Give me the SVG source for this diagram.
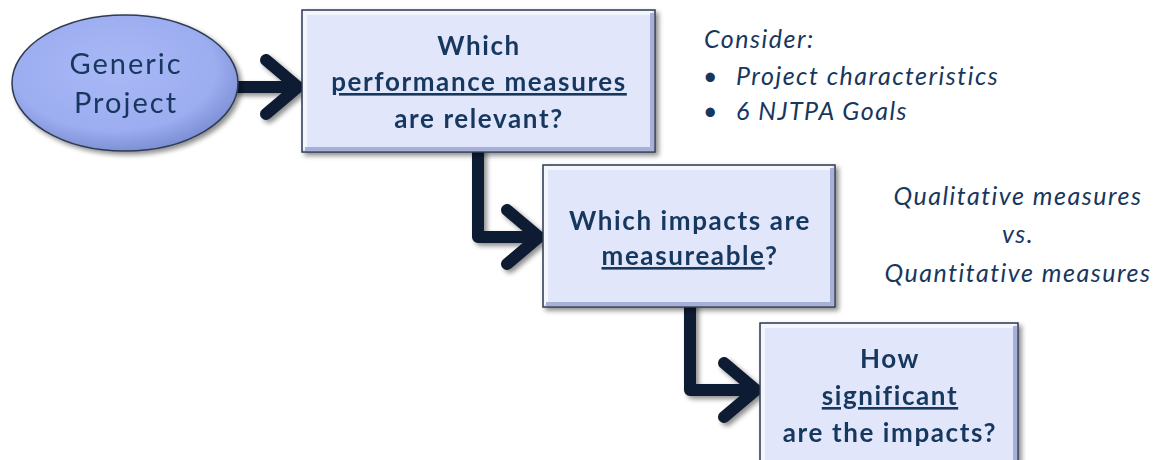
<svg xmlns="http://www.w3.org/2000/svg" width="1156" height="460" viewBox="0 0 1156 460">
  <defs>
    <style>
      .box { fill: #e1e6fb; stroke: #2e3b52; stroke-width: 1.5; }
      .bevel-hi { fill: none; stroke: #f4f6fe; stroke-width: 4; }
      .bevel-lo { fill: none; stroke: #a7b0d6; stroke-width: 4; }
      .q { font-family: "Lato", "Liberation Sans", sans-serif; font-weight: bold; font-size: 26px; letter-spacing: 1.6px; fill: #17375e; text-anchor: middle; }
      .note { font-family: "Lato", "Liberation Sans", sans-serif; font-style: italic; font-size: 25px; letter-spacing: 1.5px; fill: #17375e; }
      .start { font-family: "Lato", "Liberation Sans", sans-serif; font-size: 29px; letter-spacing: 2px; fill: #17375e; text-anchor: middle; }
      .u { text-decoration: underline; }
      .conn { fill: none; stroke: #0b1a30; stroke-width: 12; stroke-linecap: round; stroke-linejoin: round; }
    </style>
    <radialGradient id="ellFill" cx="0.45" cy="0.4" r="0.6">
      <stop offset="0" stop-color="#a9b8f6"/>
      <stop offset="0.75" stop-color="#9cadf0"/>
      <stop offset="1" stop-color="#7f91d6"/>
    </radialGradient>
    <filter id="shadow" x="-10%" y="-10%" width="130%" height="130%">
      <feGaussianBlur in="SourceAlpha" stdDeviation="2.5"/>
      <feOffset dx="3" dy="3" result="b"/>
      <feComponentTransfer><feFuncA type="linear" slope="0.45"/></feComponentTransfer>
      <feMerge><feMergeNode/><feMergeNode in="SourceGraphic"/></feMerge>
    </filter>
  </defs>

  <!-- connectors -->
  <g id="connectors" filter="url(#shadow)">
    <path class="conn" d="M238 87 H296"/>
    <path class="conn" d="M266 60 L298 87 L266 114"/>
    <path class="conn" d="M478 152 V237 H537"/>
    <path class="conn" d="M507 210 L539 237 L507 264"/>
    <path class="conn" d="M690 307 V390 H754"/>
    <path class="conn" d="M724 363 L756 390 L724 417"/>
  </g>

  <!-- start node -->
  <g id="generic-project" filter="url(#shadow)">
    <ellipse cx="125" cy="83" rx="113" ry="68" fill="url(#ellFill)" stroke="#2e3b52" stroke-width="1.5"/>
    <text class="start" x="126" y="74">Generic</text>
    <text class="start" x="126" y="113">Project</text>
  </g>

  <!-- question 1 -->
  <g id="q-relevant" filter="url(#shadow)">
    <rect class="box" x="302" y="10" width="353" height="142"/>
    <path class="bevel-hi" d="M305 149 V13 H652"/>
    <path class="bevel-lo" d="M652 13 V149 H305"/>
    <text class="q" x="479" y="55">Which</text>
    <text class="q u" x="479" y="91">performance measures</text>
    <text class="q" x="479" y="128">are relevant?</text>
  </g>

  <!-- question 2 -->
  <g id="q-measureable" filter="url(#shadow)">
    <rect class="box" x="543" y="165" width="292" height="142"/>
    <path class="bevel-hi" d="M546 304 V168 H832"/>
    <path class="bevel-lo" d="M832 168 V304 H546"/>
    <text class="q" x="690" y="230">Which impacts are</text>
    <text class="q" x="690" y="265"><tspan class="u">measureable</tspan>?</text>
  </g>

  <!-- question 3 -->
  <g id="q-significant" filter="url(#shadow)">
    <rect class="box" x="760" y="323" width="258" height="145"/>
    <path class="bevel-hi" d="M763 468 V326 H1015"/>
    <path class="bevel-lo" d="M1015 326 V468"/>
    <text class="q" x="890" y="368">How</text>
    <text class="q u" x="890" y="405">significant</text>
    <text class="q" x="890" y="442">are the impacts?</text>
  </g>

  <!-- side notes -->
  <g id="note-consider">
    <text class="note" x="704" y="48">Consider:</text>
    <text class="note" x="703" y="85">•</text>
    <text class="note" x="736" y="85">Project characteristics</text>
    <text class="note" x="703" y="120">•</text>
    <text class="note" x="736" y="120">6 NJTPA Goals</text>
  </g>
  <g id="note-measures">
    <text class="note" x="1018" y="205" text-anchor="middle">Qualitative measures</text>
    <text class="note" x="1018" y="243" text-anchor="middle">vs.</text>
    <text class="note" x="1018" y="282" text-anchor="middle">Quantitative measures</text>
  </g>
</svg>
